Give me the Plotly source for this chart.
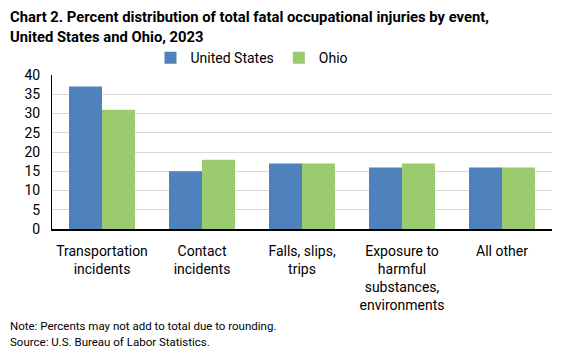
import plotly.graph_objects as go

categories = ["Transportation<br>incidents", "Contact<br>incidents", "Falls, slips,<br>trips",
              "Exposure to<br>harmful<br>substances,<br>environments", "All other"]
us_values = [37, 15, 17, 16, 16]
ohio_values = [31, 18, 17, 17, 16]
y_ticks = [0, 5, 10, 15, 20, 25, 30, 35, 40]

FONT = "Roboto"
fig = go.Figure()
fig.add_trace(go.Bar(x=categories, y=us_values, name="United States", marker_color="#4F81BD", marker_line_width=0))
fig.add_trace(go.Bar(x=categories, y=ohio_values, name="Ohio", marker_color="#9BCB6F", marker_line_width=0))

fig.update_layout(
    width=566, height=363,
    margin=dict(l=52, r=14, t=75, b=134, autoexpand=False),
    paper_bgcolor="white", plot_bgcolor="white",
    font=dict(family=FONT, size=14, color="black"),
    barmode="group", bargap=0.34, bargroupgap=0,
    legend=dict(orientation="h", x=0.40, xanchor="center", y=1.11, yanchor="middle",
                font=dict(family=FONT, size=14), itemwidth=30, traceorder="normal"),
    showlegend=True,
    xaxis=dict(showline=True, linecolor="black", linewidth=1.5, ticks="", tickfont=dict(size=14),
               fixedrange=True, ticklabelstandoff=8),
    yaxis=dict(range=[0, 40], tickvals=y_ticks, showgrid=True, gridcolor="#D9D9D9", gridwidth=1,
               showline=True, linecolor="black", linewidth=1, ticks="", tickfont=dict(size=14),
               zeroline=False, ticklabelstandoff=8, fixedrange=True),
)

fig.add_annotation(text="<b>Chart 2. Percent distribution of total fatal occupational injuries by event,</b>",
                   xref="paper", yref="paper", x=-44/500, y=(229-17)/154, xanchor="left", yanchor="middle",
                   showarrow=False, font=dict(family=FONT, size=14.8))
fig.add_annotation(text="<b>United States and Ohio, 2023</b>",
                   xref="paper", yref="paper", x=-44/500, y=(229-37)/154, xanchor="left", yanchor="middle",
                   showarrow=False, font=dict(family=FONT, size=14.8))
fig.add_annotation(text="Note: Percents may not add to total due to rounding.", xref="paper", yref="paper",
                   x=-44/500, y=-(326-229)/154, xanchor="left", yanchor="middle", showarrow=False,
                   font=dict(family=FONT, size=11.5))
fig.add_annotation(text="Source: U.S. Bureau of Labor Statistics.", xref="paper", yref="paper",
                   x=-44/500, y=-(342-229)/154, xanchor="left", yanchor="middle", showarrow=False,
                   font=dict(family=FONT, size=11.5))

fig.write_html("out.html", config={"displayModeBar": False},
               post_script="document.body.style.margin='0';document.body.style.overflow='hidden';")
